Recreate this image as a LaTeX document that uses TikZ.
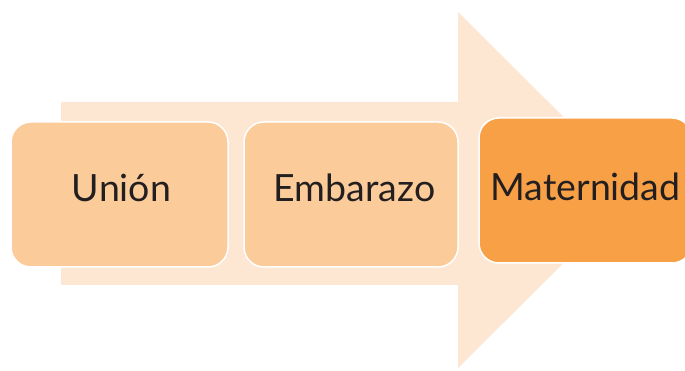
\documentclass[tikz,border=0pt]{standalone}
\usepackage{fontspec}
\setmainfont{Lato}
\definecolor{arrowfill}{HTML}{FDE7D2}
\definecolor{boxlight}{HTML}{FBCB99}
\definecolor{boxdark}{HTML}{F7A046}
\definecolor{textdark}{HTML}{231F20}
\begin{document}
\begin{tikzpicture}[x=1pt,y=1pt,
  stagebox/.style={draw=white, line width=1.5pt, rounded corners=20pt},
  stagelabel/.style={anchor=base, text=textdark, font=\fontsize{37.5}{42}\selectfont, inner sep=0pt}]
\useasboundingbox (0,0) rectangle (685,371);
\clip (0,0) rectangle (685,371);
% big background arrow
\fill[arrowfill] (61,269) -- (458,269) -- (458,359) -- (637,181) -- (458,3) -- (458,86) -- (61,86) -- cycle;
% boxes
\draw[stagebox, fill=boxlight] (11,104) rectangle (228,249);
\draw[stagebox, fill=boxlight] (244,104) rectangle (458,249);
\draw[stagebox, fill=boxdark] (479,108) rectangle (692,253);
\coordinate (b1) at (121.5,169);
\coordinate (b2) at (354.5,169);
\coordinate (b3) at (585.5,170);
\node[stagelabel] (u) at (b1) {Unión};
\node[stagelabel] (e) at (b2) {Embarazo};
\node[stagelabel] (m) at (b3) {Maternidad};
\end{tikzpicture}
\end{document}
